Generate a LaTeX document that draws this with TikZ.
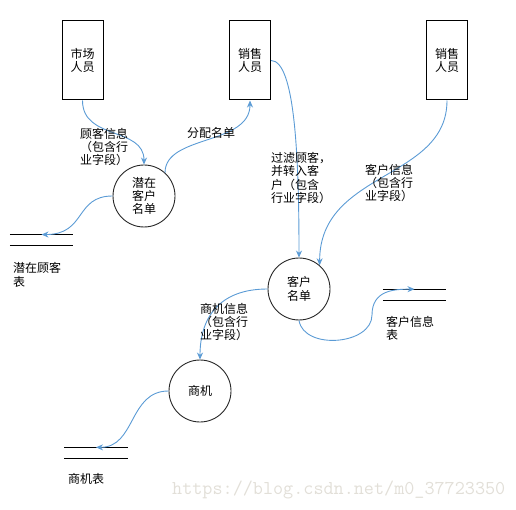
\documentclass[tikz,border=0pt]{standalone}
\usepackage{fontspec}
\setmainfont{Noto Sans CJK SC}
\usetikzlibrary{arrows.meta}
\definecolor{flowblue}{RGB}{91,155,213}
\definecolor{wmgray}{RGB}{226,223,216}
\begin{document}
\begin{tikzpicture}[x=1pt,y=-1pt,
  font=\fontsize{12}{13.4}\selectfont,
  ent/.style={draw, line width=1pt, minimum width=41pt, minimum height=79pt, inner sep=0pt, align=center},
  proc/.style={circle, draw=black!85, line width=0.9pt, minimum size=62pt, inner sep=0pt, align=center},
  store/.style={minimum width=63pt, minimum height=10.5pt, inner sep=0pt},
  flow/.style={draw=flowblue, line width=0.9pt, -{Stealth[length=7pt,width=6pt]}},
  lbl/.style={inner sep=0pt, align=left, anchor=west}]
\useasboundingbox (0,0) rectangle (516,510);
% external entities
\node[ent] (mkt) at (82.5,60.5) {市场\\人员};
\node[ent] (s1) at (250,60.5) {销售\\人员};
\node[ent] (s2) at (447,60.5) {销售\\人员};
% processes
\node[proc] (q) at (144,196) {潜在\\客户\\名单};
\node[proc] (c) at (299,289) {客户\\名单};
\node[proc] (sj) at (200,391) {商机};
% data stores
\node[store] (st1) at (41.5,240) {};
\node[store] (st2) at (414.5,294.6) {};
\node[store] (st3) at (96,452.8) {};
\foreach \s in {st1,st2,st3}{
  \draw[line width=1pt] (\s.north west) -- (\s.north east);
  \draw[line width=1pt] (\s.south west) -- (\s.south east);
}
\node[lbl] (st1l) at (13,275) {潜在顾客\\表};
\node[lbl] (st2l) at (386,328.3) {客户信息\\表};
\node[lbl] (st3l) at (68,479) {商机表};
% flows
\draw[flow] (mkt.south) .. controls +(0,40) and +(0,-38) .. (q.north);
\draw[flow] (q.48) .. controls +(0,-38) and +(0,45) .. (s1.south);
\draw[flow] (q.west) .. controls +(-38,0) and +(45,0) .. (st1.north);
\draw[flow] (s1.east) .. controls +(24,0) and +(0,-100) .. (c.north);
\draw[flow] (s2.south) .. controls +(0,80) and +(0,-95) .. (c.49);
\coordinate (m6) at (372,315);
\draw[flow] (c.south) .. controls +(5,30) and +(0,30) .. (m6) .. controls +(0,-25) and +(-20,0) .. (st2.north);
\draw[flow] (c.west) .. controls +(-50,0) and +(0,-40) .. (sj.north);
\draw[flow] (sj.west) .. controls +(-40,0) and +(40,0) .. (st3.north);
% flow labels
\node[lbl] (l1) at (80,147) {顾客信息\\（包含行\\业字段）};
\node[inner sep=0pt] (l2) at (211,133) {分配名单};
\node[lbl] (l3) at (271,178) {过滤顾客，\\并转入客\\户（包含\\行业字段）};
\node[lbl] (l4) at (365,183) {客户信息\\（包含行\\业字段）};
\node[lbl] (l5) at (200,322) {商机信息\\（包含行\\业字段）};
% watermark
\node[lbl, text=wmgray, font=\ttfamily\fontsize{19.6}{20}\selectfont] (wm) at (172,490) {https://blog.csdn.net/m0\_37723350};
\end{tikzpicture}
\end{document}
